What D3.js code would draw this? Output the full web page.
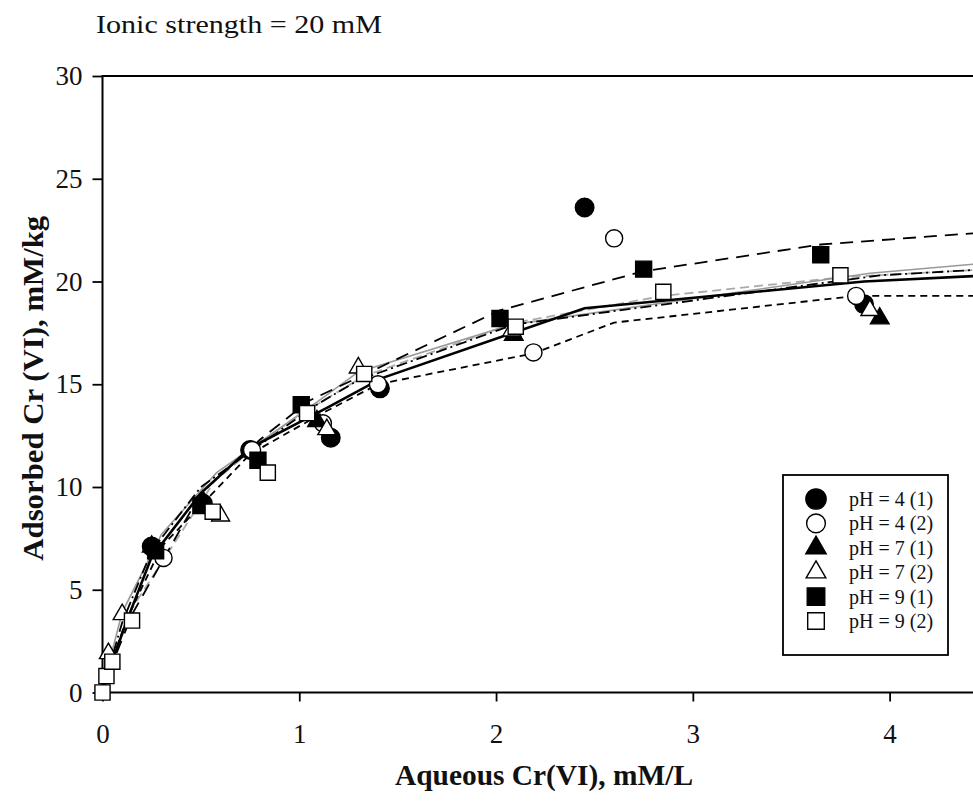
<!DOCTYPE html>
<html>
<head>
<meta charset="utf-8">
<script src="https://cdn.jsdelivr.net/npm/d3@7"></script>
<style>
  body { margin: 0; background: #fff; }
  text { font-family: "Liberation Serif", "DejaVu Serif", serif; fill: #111; }
</style>
</head>
<body>
<svg id="chart"></svg>
<script>
const ph4aX = [0.25, 0.51, 0.75, 1.16, 1.41, 2.45, 3.87];
const ph4aY = [7.1, 9.2, 11.8, 12.4, 14.8, 23.6, 18.9];
const ph4bX = [0.31, 0.76, 1.12, 1.4, 2.19, 2.6, 3.83];
const ph4bY = [6.55, 11.8, 13.1, 15.0, 16.55, 22.1, 19.3];
const ph7aX = [0.25, 0.51, 1.09, 2.09, 3.95];
const ph7aY = [7.1, 9.3, 13.2, 17.4, 18.2];
const ph7bX = [0.03, 0.1, 0.6, 1.14, 1.3, 2.08, 3.9];
const ph7bY = [1.9, 3.8, 8.6, 12.8, 15.8, 17.6, 18.6];
const ph9aX = [0.27, 0.5, 0.79, 1.01, 2.02, 2.75, 3.65];
const ph9aY = [6.9, 9.1, 11.3, 14.0, 18.2, 20.6, 21.3];
const ph9bX = [0, 0.02, 0.05, 0.15, 0.56, 0.84, 1.04, 1.33, 2.1, 2.85, 3.75];
const ph9bY = [0, 0.8, 1.5, 3.5, 8.8, 10.7, 13.6, 15.5, 17.8, 19.5, 20.3];

// fitted curves
const fit4aX = [0, 0.03, 0.12, 0.25, 0.5, 0.75, 1.15, 1.42, 2.45, 3.87, 4.5];
const fit4aY = [0, 1.0, 3.4, 6.6, 9.7, 11.9, 13.9, 15.3, 18.7, 20.0, 20.3];
const fit4bX = [0, 0.03, 0.12, 0.3, 0.75, 1.1, 1.4, 2.19, 2.6, 3.83, 4.5];
const fit4bY = [0, 1.0, 3.5, 7.1, 11.6, 13.5, 15.0, 16.5, 18.0, 19.3, 19.3];
const fit7aX = [0, 0.03, 0.1, 0.25, 0.5, 1.07, 1.3, 2.09, 3.95, 4.5];
const fit7aY = [0, 1.1, 3.4, 6.9, 10.0, 13.9, 15.2, 17.9, 20.3, 20.6];
const fit7bX = [0, 0.03, 0.1, 0.3, 0.58, 1.1, 1.3, 2.08, 3.9, 4.5];
const fit7bY = [0, 1.3, 3.9, 7.7, 10.7, 14.2, 15.6, 17.9, 20.4, 20.9];
const fit9aX = [0, 0.05, 0.15, 0.5, 0.8, 1.05, 2.02, 2.75, 3.65, 4.5];
const fit9aY = [0, 1.4, 3.8, 9.7, 12.3, 14.2, 18.6, 20.5, 21.8, 22.4];
const fit9bX = [0, 0.02, 0.05, 0.15, 0.57, 0.85, 1.0, 1.33, 2.1, 2.85, 3.75, 4.5];
const fit9bY = [0, 0.6, 1.5, 4.1, 10.3, 12.5, 13.5, 15.4, 18.0, 19.3, 20.2, 20.6];

const legendLabels = ["pH = 4 (1)", "pH = 4 (2)", "pH = 7 (1)", "pH = 7 (2)", "pH = 9 (1)", "pH = 9 (2)"];
const xTicks = [0, 1, 2, 3, 4];
const yTicks = [0, 5, 10, 15, 20, 25, 30];

const width = 973, height = 801;
const margin = { left: 102.5, top: 76, right: -15, bottom: 108 };
const plotW = width - margin.left - margin.right;
const plotH = height - margin.top - margin.bottom;

const svg = d3.select("#chart").attr("width", width).attr("height", height);

const x = d3.scaleLinear().domain([0, 4.5]).range([margin.left, margin.left + plotW]);
const y = d3.scaleLinear().domain([0, 30]).range([margin.top + plotH - 0.5, margin.top]);

const zip = (xs, ys) => xs.map((v, i) => [v, ys[i]]);

const series = [
  { pts: zip(ph4aX, ph4aY), fit: zip(fit4aX, fit4aY), shape: d3.symbolCircle, size: 270, filled: true,
    stroke: "#000", width: 2.6, dash: null },
  { pts: zip(ph4bX, ph4bY), fit: zip(fit4bX, fit4bY), shape: d3.symbolCircle, size: 230, filled: false,
    stroke: "#000", width: 1.8, dash: "7,5" },
  { pts: zip(ph7aX, ph7aY), fit: zip(fit7aX, fit7aY), shape: d3.symbolTriangle, size: 150, filled: true,
    stroke: "#000", width: 1.8, dash: "11,4,2,4" },
  { pts: zip(ph7bX, ph7bY), fit: zip(fit7bX, fit7bY), shape: d3.symbolTriangle, size: 140, filled: false,
    stroke: "#999", width: 1.6, dash: null },
  { pts: zip(ph9aX, ph9aY), fit: zip(fit9aX, fit9aY), shape: d3.symbolSquare, size: 256, filled: true,
    stroke: "#000", width: 1.8, dash: "13,8" },
  { pts: zip(ph9bX, ph9bY), fit: zip(fit9bX, fit9bY), shape: d3.symbolSquare, size: 230, filled: false,
    stroke: "#aaa", width: 1.8, dash: "9,5" },
];

// title
svg.append("text")
  .attr("x", 96).attr("y", 33)
  .attr("font-size", 26)
  .attr("textLength", 286).attr("lengthAdjust", "spacingAndGlyphs")
  .text("Ionic strength = 20 mM");

// axes
const xAxis = d3.axisBottom(x).tickValues(xTicks).tickSize(9).tickPadding(22).tickFormat(d3.format("d"));
const yAxis = d3.axisLeft(y).tickValues(yTicks).tickSize(10).tickPadding(10).tickFormat(d3.format("d"));

const gx = svg.append("g").attr("transform", `translate(0,${y(0)})`).call(xAxis);
const gy = svg.append("g").attr("transform", `translate(${margin.left},0)`).call(yAxis);
[gx, gy].forEach((g) => {
  g.select(".domain").remove();
  g.selectAll(".tick line").attr("stroke", "#000").attr("stroke-width", 1.8);
  g.selectAll(".tick text").attr("font-size", 27).attr("fill", "#111")
    .attr("font-family", "'Liberation Serif', serif");
});

// frame (right edge falls outside the picture)
svg.append("path")
  .attr("d", `M${x(4.5)},${y(30)}H${x(0)}V${y(0)}H${x(4.5)}`)
  .attr("fill", "none").attr("stroke", "#000").attr("stroke-width", 2);

// axis titles
svg.append("text")
  .attr("x", 544).attr("y", 785)
  .attr("text-anchor", "middle")
  .attr("font-size", 29).attr("font-weight", "bold")
  .attr("textLength", 298).attr("lengthAdjust", "spacingAndGlyphs")
  .text("Aqueous Cr(VI), mM/L");

svg.append("text")
  .attr("transform", `translate(43,${(y(0) + y(30)) / 2 + 4}) rotate(-90)`)
  .attr("text-anchor", "middle")
  .attr("font-size", 29).attr("font-weight", "bold")
  .attr("textLength", 345).attr("lengthAdjust", "spacingAndGlyphs")
  .text("Adsorbed Cr (VI), mM/kg");

// fitted lines
const line = d3.line().x((d) => x(d[0])).y((d) => y(d[1]));
const lineOrder = [5, 3, 1, 4, 2, 0];
lineOrder.forEach((i) => {
  const s = series[i];
  svg.append("path")
    .datum(s.fit)
    .attr("d", line)
    .attr("fill", "none")
    .attr("stroke", s.stroke)
    .attr("stroke-width", s.width)
    .attr("stroke-dasharray", s.dash);
});

// markers
const sym = d3.symbol();
series.forEach((s) => {
  svg.append("g")
    .selectAll("path")
    .data(s.pts)
    .join("path")
    .attr("transform", (d) => `translate(${x(d[0])},${y(d[1])})`)
    .attr("d", sym.type(s.shape).size(s.size)())
    .attr("fill", s.filled ? "#000" : "#fff")
    .attr("stroke", "#000")
    .attr("stroke-width", 1.4);
});

// legend
const lg = svg.append("g");
lg.append("rect")
  .attr("x", 783).attr("y", 475).attr("width", 165).attr("height", 180)
  .attr("fill", "#fff").attr("stroke", "#000").attr("stroke-width", 1.8);

const rowY = d3.scaleLinear().domain([0, 5]).range([499, 621]);
series.forEach((s, i) => {
  lg.append("path")
    .attr("transform", `translate(816,${rowY(i)})`)
    .attr("d", sym.type(s.shape).size(s.size * 1.2)())
    .attr("fill", s.filled ? "#000" : "#fff")
    .attr("stroke", "#000")
    .attr("stroke-width", 1.4);
  lg.append("text")
    .attr("x", 849).attr("y", rowY(i) + 7)
    .attr("font-size", 20)
    .text(legendLabels[i]);
});
</script>
</body>
</html>
